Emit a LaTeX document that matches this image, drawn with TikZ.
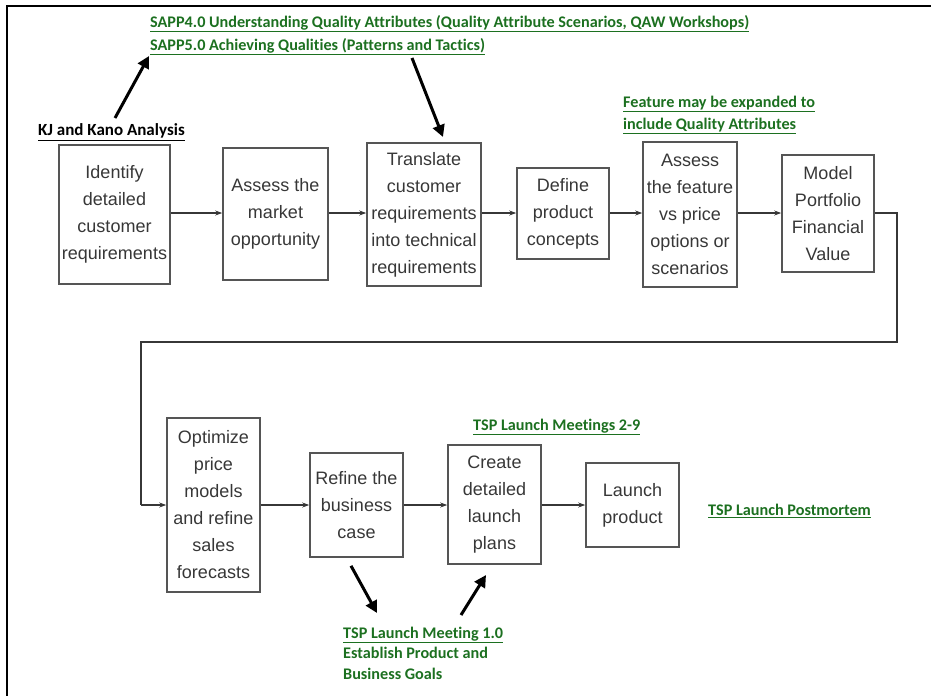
\documentclass[tikz,border=0pt]{standalone}
\usepackage{fontspec}
\setmainfont{Liberation Sans}
\newfontfamily\notefont[Ligatures=NoCommon]{Carlito}
\usetikzlibrary{arrows.meta}
\definecolor{notegreen}{RGB}{28,112,32}
\definecolor{boxgray}{RGB}{85,85,85}
\definecolor{textgray}{RGB}{55,55,55}
\tikzset{
  stepbox/.style={draw=boxgray, line width=1.6pt, text=textgray, align=center,
    inner sep=0pt, font=\fontsize{18}{27}\selectfont},
  flow/.style={draw=textgray, line width=1.1pt, -{Stealth[length=7pt,width=5pt]}},
  flowline/.style={draw=textgray, line width=1.1pt},
  pointer/.style={draw=black, line width=3pt, -{Triangle[length=12pt,width=12pt]}},
  note/.style={text=notegreen, font=\notefont\bfseries\fontsize{16.2}{22}\selectfont,
    anchor=west, align=left, inner sep=0pt},
  blacknote/.style={note, text=black, font=\notefont\bfseries\fontsize{17}{22}\selectfont}
}
\begin{document}
\begin{tikzpicture}[x=1pt, y=-1pt]
  \useasboundingbox (0,0) rectangle (931,696);
  % frame on the top and left sides
  \draw[line width=1.5pt] (931,6) -- (7,6) -- (7,696);

  % first row of steps
  \node[stepbox, minimum width=111pt, minimum height=139pt] (b1) at (114.5,214.5)
    {Identify\\detailed\\customer\\requirements};
  \node[stepbox, minimum width=105pt, minimum height=132pt] (b2) at (275.5,214)
    {Assess the\\market\\opportunity};
  \node[stepbox, minimum width=114pt, minimum height=143pt] (b3) at (424,214.5)
    {Translate\\customer\\requirements\\into technical\\requirements};
  \node[stepbox, minimum width=92pt, minimum height=91pt] (b4) at (563,213.5)
    {Define\\product\\concepts};
  \node[stepbox, minimum width=94pt, minimum height=145pt] (b5) at (690,214.5)
    {Assess\\the feature\\vs price\\options or\\scenarios};
  \node[stepbox, minimum width=92pt, minimum height=117pt] (b6) at (828,213.5)
    {Model\\Portfolio\\Financial\\Value};

  % second row of steps
  \node[stepbox, minimum width=93pt, minimum height=174pt] (b7) at (213.5,505)
    {Optimize\\price\\models\\and refine\\sales\\forecasts};
  \node[stepbox, minimum width=93pt, minimum height=104pt] (b8) at (356.5,505)
    {Refine the\\business\\case};
  \node[stepbox, minimum width=93pt, minimum height=119pt] (b9) at (494.5,504.5)
    {Create\\detailed\\launch\\plans};
  \node[stepbox, minimum width=93pt, minimum height=84pt] (b10) at (632.5,505)
    {Launch\\product};

  % flow between steps
  \draw[flow] (b1.east |- 0,213) -- (b2.west |- 0,213);
  \draw[flow] (b2.east |- 0,213) -- (b3.west |- 0,213);
  \draw[flow] (b3.east |- 0,213) -- (b4.west |- 0,213);
  \draw[flow] (b4.east |- 0,213) -- (b5.west |- 0,213);
  \draw[flow] (b5.east |- 0,213) -- (b6.west |- 0,213);
  \coordinate (t1) at (897,213);
  \coordinate (t2) at (897,342);
  \coordinate (t3) at (141,342);
  \coordinate (t4) at (141,505);
  \draw[flowline] (b6.east |- t1) -- (t1) -- (t2) -- (t3) -- (t4);
  \draw[flow] (t4) -- (b7.west |- t4);
  \draw[flow] (b7.east |- 0,505) -- (b8.west |- 0,505);
  \draw[flow] (b8.east |- 0,505) -- (b9.west |- 0,505);
  \draw[flow] (b9.east |- 0,505) -- (b10.west |- 0,505);

  % annotations
  \node[note, anchor=north west, font=\notefont\bfseries\fontsize{16.2}{23}\selectfont] (sapp) at (150,15)
    {\underline{SAPP4.0 Understanding Quality Attributes (Quality Attribute Scenarios, QAW Workshops)}\\
     \underline{SAPP5.0 Achieving Qualities (Patterns and Tactics)}};
  \node[blacknote] (kj) at (38,132) {\underline{KJ and Kano Analysis}};
  \node[note] (feat) at (623,115)
    {\underline{Feature may be expanded to}\\\underline{include Quality Attributes}};
  \node[note] (tsp29) at (473,427) {\underline{TSP Launch Meetings 2-9}};
  \node[note] (post) at (708,511) {\underline{TSP Launch Postmortem}};
  \node[note, font=\notefont\bfseries\fontsize{16.2}{20.5}\selectfont] (tsp1) at (343,653)
    {\underline{TSP Launch Meeting 1.0}\\Establish Product and\\Business Goals};

  % pointer arrows
  \coordinate (p1) at (115,118);
  \coordinate (p2) at (149,56);
  \draw[pointer] (p1) -- (p2);
  \coordinate (p3) at (412,58);
  \draw[pointer] (p3) -- (443,137);
  \draw[pointer] (b8.south -| 351,0) ++(0,8) -- (377,613);
  \coordinate (p4) at (461,615);
  \draw[pointer] (p4) -- (486,575);
\end{tikzpicture}
\end{document}
